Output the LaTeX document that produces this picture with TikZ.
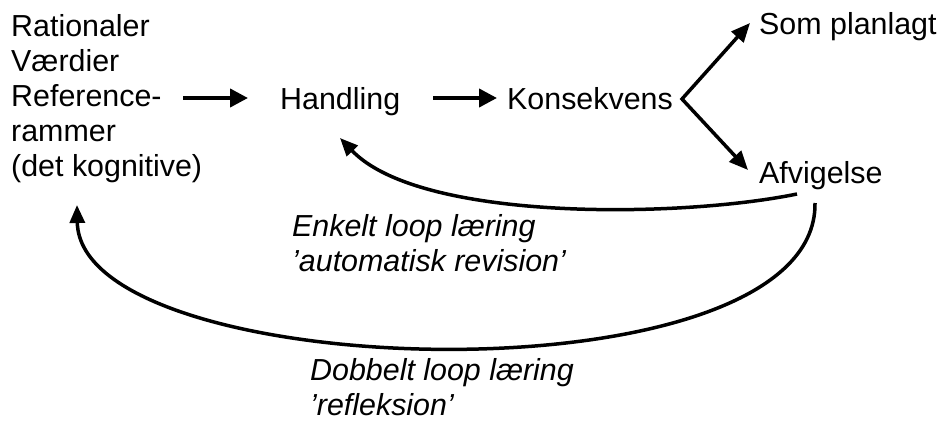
\documentclass[tikz,border=0pt]{standalone}
\usepackage{fontspec}
\setmainfont{Liberation Sans}
\usetikzlibrary{arrows.meta}
\newcommand{\dfont}{\fontsize{30.4}{35}\selectfont}
\begin{document}
\begin{tikzpicture}[x=1pt,y=-1pt,
  every node/.style={inner sep=0pt, font=\dfont},
  block/.style={align=left, anchor=north west},
  ital/.style={align=left, anchor=north west, font=\dfont\itshape},
  word/.style={anchor=base west},
  arr/.style={line width=4pt, -{Triangle[length=18pt,width=18pt]}},
  brarr/.style={line width=3.5pt, {Triangle[length=19pt,width=16pt]}-{Triangle[length=19pt,width=16pt]}},
  looparr/.style={line width=3.5pt, -{Triangle[length=18pt,width=15pt]}}]
\useasboundingbox (0,0) rectangle (941,423);
\node[block] (src) at (11,14) {Rationaler\\Værdier\\Reference-\\rammer\\(det kognitive)};
\node[word] (hand) at (280,109) {Handling};
\node[word] (kons) at (507,109) {Konsekvens};
\node[word] (plan) at (759,34) {Som planlagt};
\node[word] (afv) at (759,183) {Afvigelse};
\node[ital] (enk) at (292,214) {Enkelt loop læring\\'automatisk revision'};
\node[ital] (dob) at (310,358) {Dobbelt loop læring\\'refleksion'};
% straight arrows
\coordinate (a1s) at (183,98);
\coordinate (a1e) at (248,98);
\coordinate (a2s) at (433,98);
\coordinate (a2e) at (497,98);
\draw[arr] (a1s) -- (a1e);
\draw[arr] (a2s) -- (a2e);
% branch
\coordinate (br) at (682,99);
\coordinate (tp) at (750,23);
\coordinate (ta) at (748,170);
\draw[brarr] (tp) -- (br) -- (ta);
% single loop
\coordinate (s1) at (797,194);
\coordinate (s2) at (340,138);
\draw[looparr] (s1) .. controls (680,218) and (420,222) .. (s2);
% double loop
\coordinate (d1) at (815,203);
\coordinate (d2) at (77,205);
\draw[looparr] (d1) .. controls (818,405) and (80,385) .. (d2);
\end{tikzpicture}
\end{document}
